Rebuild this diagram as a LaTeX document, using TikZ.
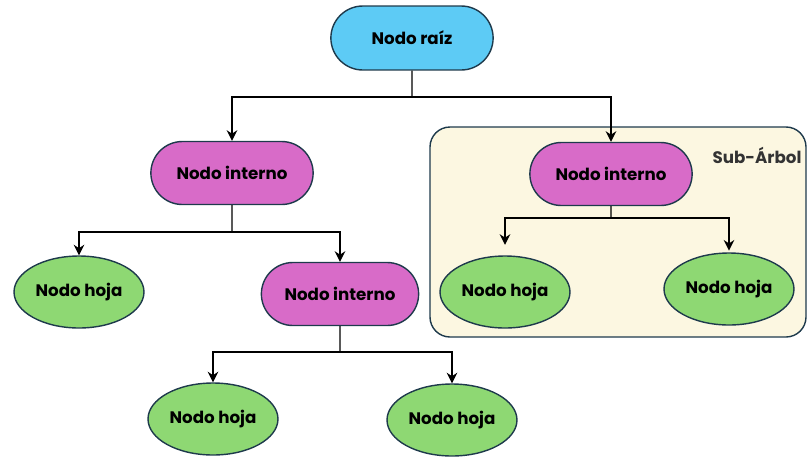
\documentclass[tikz,border=0pt]{standalone}
\usepackage{fontspec}
\setmainfont{Poppins}
\usepackage{tikz}
\usetikzlibrary{shapes.geometric,shapes.misc,arrows.meta}

\definecolor{borde}{HTML}{1E3A4C}
\definecolor{azul}{HTML}{5DCBF5}
\definecolor{rosa}{HTML}{D86BC8}
\definecolor{verde}{HTML}{8ED873}
\definecolor{crema}{HTML}{FCF7E1}

\begin{document}
\begin{tikzpicture}[x=0.02cm,y=-0.02cm]
        \tikzstyle{every node}=[draw=borde,line width=0.8pt,font=\fontsize{9.5}{11}\selectfont\bfseries,text=black]
        \tikzstyle{raiz}=[shape=rounded rectangle,fill=azul,minimum width=3.48cm,minimum height=1.28cm]
        \tikzstyle{interno}=[shape=rounded rectangle,fill=rosa,minimum width=3.48cm,minimum height=1.26cm]
        \tikzstyle{hoja}=[shape=ellipse,fill=verde,inner sep=1pt,minimum width=2.6cm,minimum height=1.44cm]
        \tikzstyle{linea}=[line width=0.8pt]
        \tikzstyle{flecha}=[linea,-{Stealth[length=6pt,width=6pt]}]
        \useasboundingbox (0,0) rectangle (808,457);

            % sub-arbol
            \draw[draw=borde,fill=crema,line width=0.8pt,rounded corners=0.4cm] (430,127) rectangle (806,337);
            \node[draw=none,text=black!80] (sub) at (757,155) {Sub-Árbol};

            \node[raiz] (r) at (412,38) {Nodo raíz};
            \node[interno] (a) at (232,173) {Nodo interno};
            \node[interno] (b) at (611,174) {Nodo interno};
            \node[hoja] (c) at (79,292) {Nodo hoja};
            \node[interno,minimum width=3.38cm] (d) at (340,294) {Nodo interno};
            \node[hoja] (e) at (505,292) {Nodo hoja};
            \node[hoja] (f) at (729,289) {Nodo hoja};
            \node[hoja] (g) at (213,419) {Nodo hoja};
            \node[hoja] (h) at (452,420) {Nodo hoja};

            \coordinate (j1) at (412,97);
            \coordinate (j2) at (232,232);
            \coordinate (j3) at (611,218);
            \coordinate (j4) at (340,352);

            \draw[linea] (r) -- (j1) (a) -- (j2) (b) -- (j3) (d) -- (j4);
            \draw[flecha] (j1) -| (a);
            \draw[flecha] (j1) -| (b);
            \draw[flecha] (j2) -| (c);
            \draw[flecha] (j2) -| (d);
            \draw[flecha,shorten >=6pt] (j3) -| (e);
            \draw[flecha,shorten >=1pt] (j3) -| (f);
            \draw[flecha] (j4) -| (g);
            \draw[flecha] (j4) -| (h);
        \end{tikzpicture}
\end{document}
